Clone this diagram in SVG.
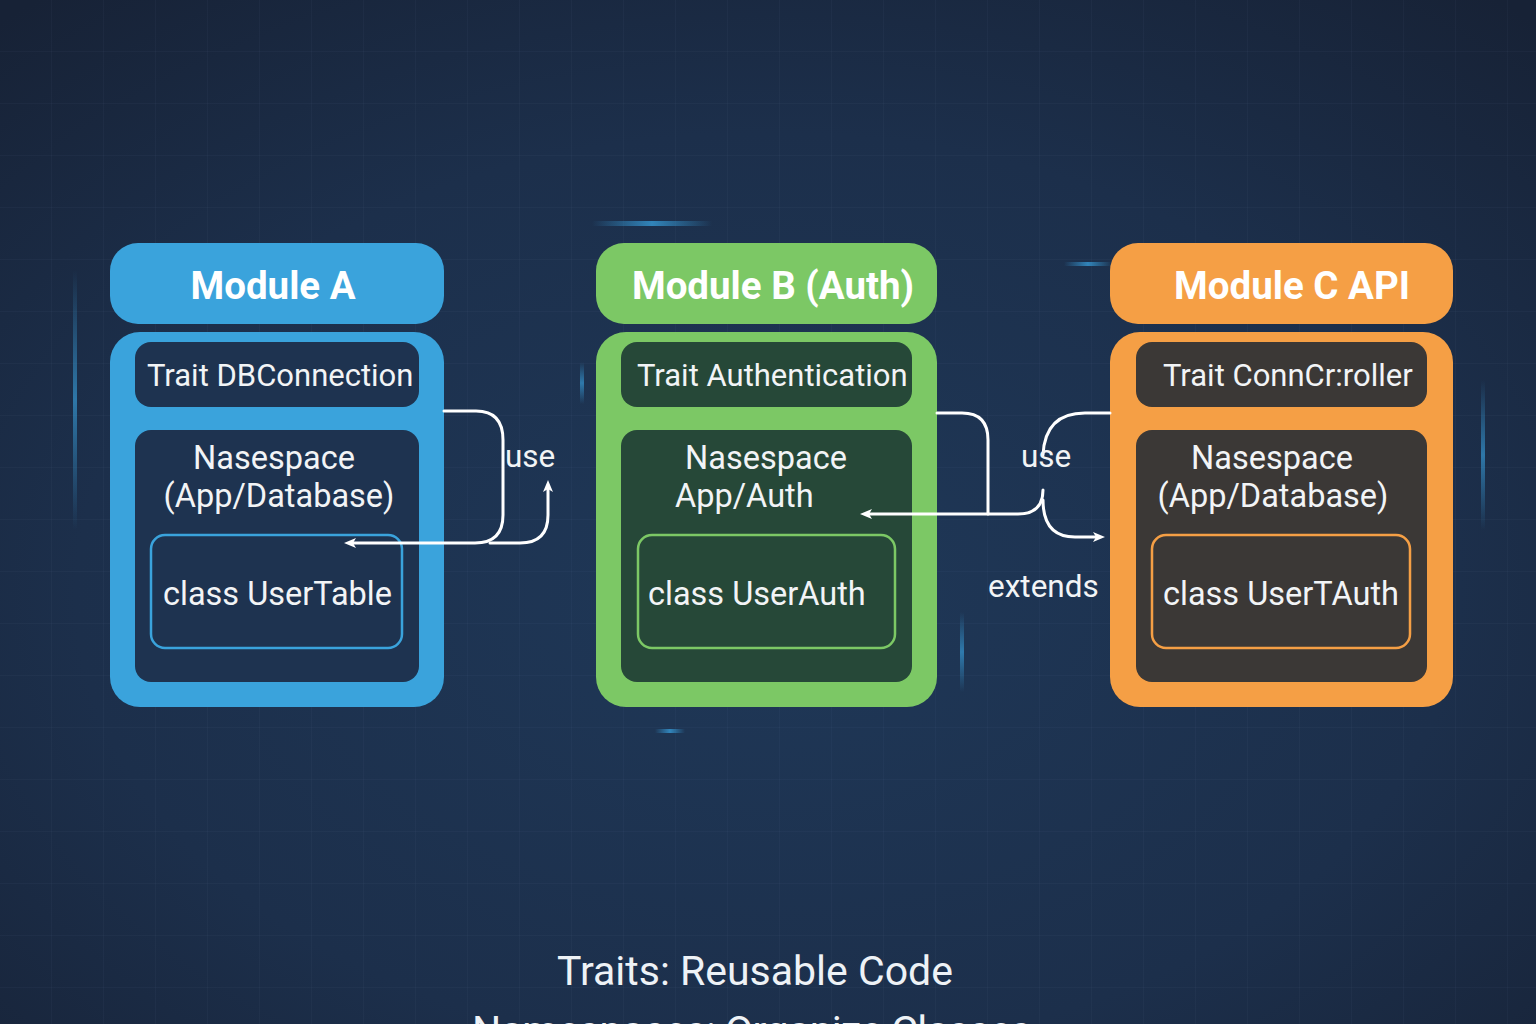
<svg xmlns="http://www.w3.org/2000/svg" width="1536" height="1024" viewBox="0 0 1536 1024">
<defs>
<radialGradient id="bg" cx="50%" cy="58%" r="75%">
<stop offset="0" stop-color="#1f3858"/>
<stop offset="0.6" stop-color="#1c2f4b"/>
<stop offset="1" stop-color="#172236"/>
</radialGradient>
<pattern id="grid" width="52" height="52" patternUnits="userSpaceOnUse">
<path d="M52,0 V52 M0,52 H52" fill="none" stroke="#6f8fb8" stroke-opacity="0.10" stroke-width="1"/>
</pattern>
<linearGradient id="streakV" x1="0" y1="0" x2="0" y2="1">
<stop offset="0" stop-color="#3aa8e8" stop-opacity="0"/>
<stop offset="0.5" stop-color="#3aa8e8" stop-opacity="0.6"/>
<stop offset="1" stop-color="#3aa8e8" stop-opacity="0"/>
</linearGradient>
<linearGradient id="streakH" x1="0" y1="0" x2="1" y2="0">
<stop offset="0" stop-color="#3aa8e8" stop-opacity="0"/>
<stop offset="0.5" stop-color="#3aa8e8" stop-opacity="0.7"/>
<stop offset="1" stop-color="#3aa8e8" stop-opacity="0"/>
</linearGradient>
<marker id="arr" viewBox="0 0 12 12" refX="6" refY="6" markerWidth="12" markerHeight="12" markerUnits="userSpaceOnUse" orient="auto">
<path d="M0,1 L12,6 L0,11 L3,6 z" fill="#ffffff"/>
</marker>
<style>
.title{font-family:Roboto,"Liberation Sans",sans-serif;font-weight:700;font-size:38.5px;fill:#ffffff;text-anchor:middle}
.trait{font-family:Roboto,"Liberation Sans",sans-serif;font-size:31px;fill:#f2f4f6}
.ns{font-family:Roboto,"Liberation Sans",sans-serif;font-size:32.5px;fill:#f2f4f6}
.cls{font-family:Roboto,"Liberation Sans",sans-serif;font-size:32.5px;fill:#f2f4f6}
.lbl{font-family:Roboto,"Liberation Sans",sans-serif;font-size:31.5px;fill:#f2f4f6}
.foot{font-family:Roboto,"Liberation Sans",sans-serif;font-size:41px;fill:#eef2f6}
.conn{fill:none;stroke:#ffffff;stroke-width:3;stroke-linecap:round;stroke-linejoin:round}
.blueM{fill:#3aa3dc}
.greenM{fill:#7cc865}
.orangeM{fill:#f59f45}
</style>
</defs>
<rect width="1536" height="1024" fill="url(#bg)"/>
<rect width="1536" height="1024" fill="url(#grid)"/>
<g id="decor">
<rect x="73" y="270" width="4" height="260" fill="url(#streakV)"/>
<rect x="580" y="362" width="4" height="42" fill="url(#streakV)"/>
<rect x="960" y="612" width="4" height="80" fill="url(#streakV)"/>
<rect x="1481" y="380" width="4" height="150" fill="url(#streakV)"/>
<rect x="592" y="221" width="120" height="5" fill="url(#streakH)"/>
<rect x="1064" y="262" width="48" height="4" fill="url(#streakH)"/>
<rect x="655" y="729" width="30" height="4" fill="url(#streakH)"/>
</g>

<g id="moduleA">
<rect class="blueM" x="110" y="243" width="334" height="81" rx="28"/>
<text class="title" x="273" y="299">Module A</text>
<rect class="blueM" x="110" y="332" width="334" height="375" rx="30"/>
<rect x="135" y="342" width="284" height="65" rx="16" fill="#1e3350"/>
<text class="trait" x="147" y="386">Trait DBConnection</text>
<rect x="135" y="430" width="284" height="252" rx="16" fill="#1e3350"/>
<text class="ns" x="274" y="469" text-anchor="middle">Nasespace</text>
<text class="ns" x="279" y="507" text-anchor="middle">(App/Database)</text>
<rect x="151" y="535" width="251" height="113" rx="14" fill="none" stroke="#3aa3dc" stroke-width="2.5"/>
<text class="cls" x="163" y="605">class UserTable</text>
</g>

<g id="moduleB">
<rect class="greenM" x="596" y="243" width="341" height="81" rx="28"/>
<text class="title" x="773" y="299">Module B (Auth)</text>
<rect class="greenM" x="596" y="332" width="341" height="375" rx="30"/>
<rect x="621" y="342" width="291" height="65" rx="16" fill="#264838"/>
<text class="trait" x="637" y="386">Trait Authentication</text>
<rect x="621" y="430" width="291" height="252" rx="16" fill="#264838"/>
<text class="ns" x="766" y="469" text-anchor="middle">Nasespace</text>
<text class="ns" x="675" y="507">App/Auth</text>
<rect x="638" y="535" width="257" height="113" rx="14" fill="none" stroke="#7cc865" stroke-width="2.5"/>
<text class="cls" x="648" y="605">class UserAuth</text>
</g>

<g id="moduleC">
<rect class="orangeM" x="1110" y="243" width="343" height="81" rx="28"/>
<text class="title" x="1292" y="299">Module C API</text>
<rect class="orangeM" x="1110" y="332" width="343" height="375" rx="30"/>
<rect x="1136" y="342" width="291" height="65" rx="16" fill="#3b3836"/>
<text class="trait" x="1163" y="386">Trait ConnCr:roller</text>
<rect x="1136" y="430" width="291" height="252" rx="16" fill="#3b3836"/>
<text class="ns" x="1272" y="469" text-anchor="middle">Nasespace</text>
<text class="ns" x="1273" y="507" text-anchor="middle">(App/Database)</text>
<rect x="1152" y="535" width="258" height="113" rx="14" fill="none" stroke="#f59f45" stroke-width="2.5"/>
<text class="cls" x="1163" y="605">class UserTAuth</text>
</g>

<g id="connectors">
<path class="conn" d="M444,411 H476 Q503,411 503,440 V515 Q503,543 475,543 H350" marker-end="url(#arr)"/>
<path class="conn" d="M490,543 H520 Q548,543 548,515 V486" marker-end="url(#arr)"/>
<path class="conn" d="M937,413 H962 Q988,413 988,440 V514"/>
<path class="conn" d="M1043,490 Q1043,514 1018,514 H866" marker-end="url(#arr)"/>
<path class="conn" d="M1110,413 H1085 Q1045,413 1043,455"/>
<path class="conn" d="M1043,500 Q1043,537 1075,537 H1099" marker-end="url(#arr)"/>
<text class="lbl" x="505" y="467">use</text>
<text class="lbl" x="1021" y="467">use</text>
<text class="lbl" x="988" y="597" font-size="30.5px">extends</text>
</g>

<g id="footer">
<text class="foot" x="557" y="985">Traits: Reusable Code</text>
<text class="foot" x="472" y="1045" font-size="38px" letter-spacing="-0.6">Namespaces: Organize Classes</text>
</g>
</svg>
